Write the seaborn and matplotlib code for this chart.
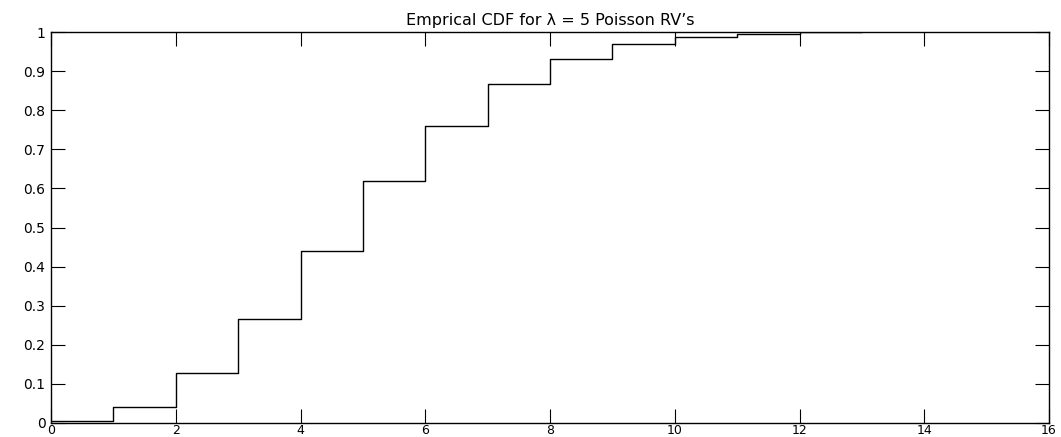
import matplotlib
matplotlib.use("Agg")
import matplotlib.pyplot as plt
import seaborn as sns
import pandas as pd

x_values = [0, 1, 2, 3, 4, 5, 6, 7, 8, 9, 10, 11, 12, 13]
cdf_values = [0.005, 0.040, 0.129, 0.266, 0.440, 0.619, 0.760, 0.866,
              0.932, 0.969, 0.987, 0.995, 0.999, 1.0]
x_ticks = [0, 2, 4, 6, 8, 10, 12, 14, 16]
y_ticks = [0, 0.1, 0.2, 0.3, 0.4, 0.5, 0.6, 0.7, 0.8, 0.9, 1]
y_tick_labels = ["0", "0.1", "0.2", "0.3", "0.4", "0.5", "0.6", "0.7", "0.8", "0.9", "1"]
title = "Emprical CDF for \u03bb = 5 Poisson RV\u2019s"

sns.set_theme(style="white")
plt.rcParams['font.family'] = ['DejaVu Sans']
plt.rcParams['text.color'] = 'black'

df = pd.DataFrame({"x": x_values, "F": cdf_values})

fig = plt.figure(figsize=(10.61, 4.37), dpi=100)
ax = fig.add_axes([51 / 1061, 1 - 423 / 437, (1049 - 51) / 1061, (423 - 32) / 437])

sns.lineplot(data=df, x="x", y="F", drawstyle="steps-post", color="black",
             linewidth=1.0, ax=ax, sort=True)

ax.set_xlim(0, 16)
ax.set_ylim(0, 1)
ax.set_xticks(x_ticks)
ax.set_xticklabels([str(t) for t in x_ticks])
ax.set_yticks(y_ticks)
ax.set_yticklabels(y_tick_labels)
ax.set_xlabel("")
ax.set_ylabel("")
ax.tick_params(direction="in", length=10, width=0.8, colors="black",
               top=True, right=True, bottom=True, left=True,
               labelsize=10, pad=4)
ax.tick_params(axis="x", pad=1, labelsize=9)
for s in ax.spines.values():
    s.set_visible(True)
    s.set_color("black")
    s.set_linewidth(1.0)
ax.set_title(title, fontsize=11.5, pad=5, color="black")

fig.savefig("out.png", dpi=100, facecolor="white")
